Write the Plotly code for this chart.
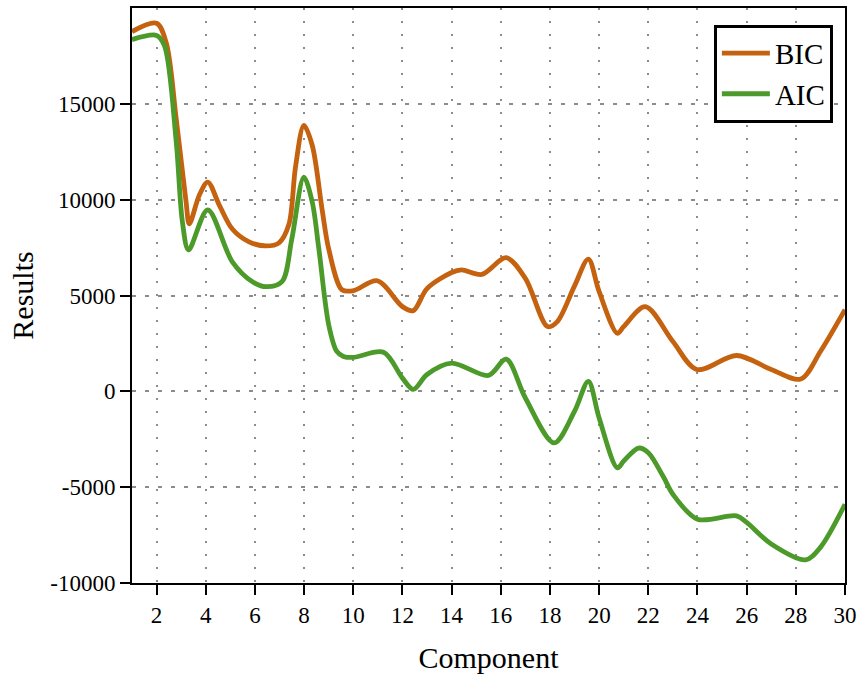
import plotly.graph_objects as go

bic_x = [1, 2, 2.39, 2.8, 3.2, 3.33, 3.74, 4.08, 4.55, 5.08, 5.76, 6.44, 6.98, 7.38, 7.65, 7.99,
         8.33, 8.73, 9.0, 9.54, 10.0, 10.98, 12.0, 12.44, 13.0, 14.0, 14.4, 15.23, 16.22, 17.0,
         17.9, 18.3, 19.0, 19.56, 20.0, 20.74, 21.0, 21.88, 23.0, 23.97, 25.59, 27.0, 28.2, 29.0, 30.0]
bic_y = [18770, 19200, 18200, 14200, 9880, 8740, 10240, 10920, 9720, 8470, 7800, 7590, 7750, 8700, 11700, 13880,
         12840, 9510, 7430, 5300, 5250, 5770, 4420, 4210, 5360, 6200, 6340, 6100, 6970, 5890,
         3380, 3640, 5500, 6900, 5200, 3030, 3380, 4420, 2600, 1140, 1870, 1140, 640, 2080, 4260]

aic_x = [1, 2, 2.32, 2.8, 3.05, 3.3, 4.08, 5.08, 5.9, 6.45, 7.1, 7.5, 7.99, 8.33, 8.6, 9.0, 9.33,
         9.6, 10.0, 11.23, 12.0, 12.44, 13.0, 14.0, 15.5, 16.22, 17.0, 18.17, 19.0, 19.56, 20.0,
         20.74, 21.0, 21.6, 22.0, 22.63, 23.0, 24.0, 25.59, 26.0, 27.0, 28.4, 29.0, 30.0]
aic_y = [18350, 18570, 18040, 13000, 8840, 7380, 9460, 6760, 5720, 5460, 5720, 7950, 11180, 9880, 7430, 3480, 2080,
         1820, 1770, 2040, 690, 100, 880, 1470, 830, 1680, -350, -2690, -1040, 520, -1390,
         -3990, -3640, -2960, -3200, -4500, -5370, -6670, -6500, -6840, -7970, -8790, -8140, -5890]

series_names = ["BIC", "AIC"]
colors = ["#C4620F", "#4C9A2A"]

y_tick_vals = [-10000, -5000, 0, 5000, 10000, 15000]
y_tick_text = ["-10000", "-5000", "0", "5000", "10000", "15000"]
x_tick_vals = [2, 4, 6, 8, 10, 12, 14, 16, 18, 20, 22, 24, 26, 28, 30]

FONT = "Liberation Serif, Times New Roman, serif"

fig = go.Figure()
for xs, ys, nm, c in [(bic_x, bic_y, series_names[0], colors[0]), (aic_x, aic_y, series_names[1], colors[1])]:
    fig.add_trace(go.Scatter(x=xs, y=ys, name=nm, mode="lines",
                             line=dict(color=c, width=4.8, shape="spline", smoothing=0.9)))

fig.update_layout(
    width=863, height=679,
    margin=dict(l=132, r=14, t=6, b=96),
    paper_bgcolor="white", plot_bgcolor="white",
    font=dict(family=FONT, color="black", size=23),
    showlegend=True,
    legend=dict(x=0.983, y=0.971, xanchor="right", yanchor="top",
                bordercolor="black", borderwidth=3, bgcolor="white",
                font=dict(size=29, family=FONT), tracegroupgap=0,
                itemwidth=48),
)
fig.update_xaxes(
    range=[1, 30], tickvals=x_tick_vals,
    showline=True, linecolor="black", linewidth=2, mirror=True,
    ticks="outside", ticklen=10, tickwidth=2, tickcolor="black",
    showgrid=True, gridcolor="#8c8c8c", gridwidth=2, griddash="2px,11px",
    zeroline=False,
    title=dict(text="Component", font=dict(size=30, family=FONT), standoff=20),
    tickfont=dict(size=23, family=FONT),
)
fig.update_yaxes(
    range=[-10000, 20000], tickvals=y_tick_vals, ticktext=y_tick_text,
    showline=True, linecolor="black", linewidth=2, mirror=True,
    ticks="outside", ticklen=10, tickwidth=2, tickcolor="black",
    showgrid=True, gridcolor="#8c8c8c", gridwidth=2, griddash="4px,9px",
    zeroline=False,
    title=dict(text="Results", font=dict(size=30, family=FONT), standoff=8),
    tickfont=dict(size=23, family=FONT),
)

fig.write_html("out.html")
